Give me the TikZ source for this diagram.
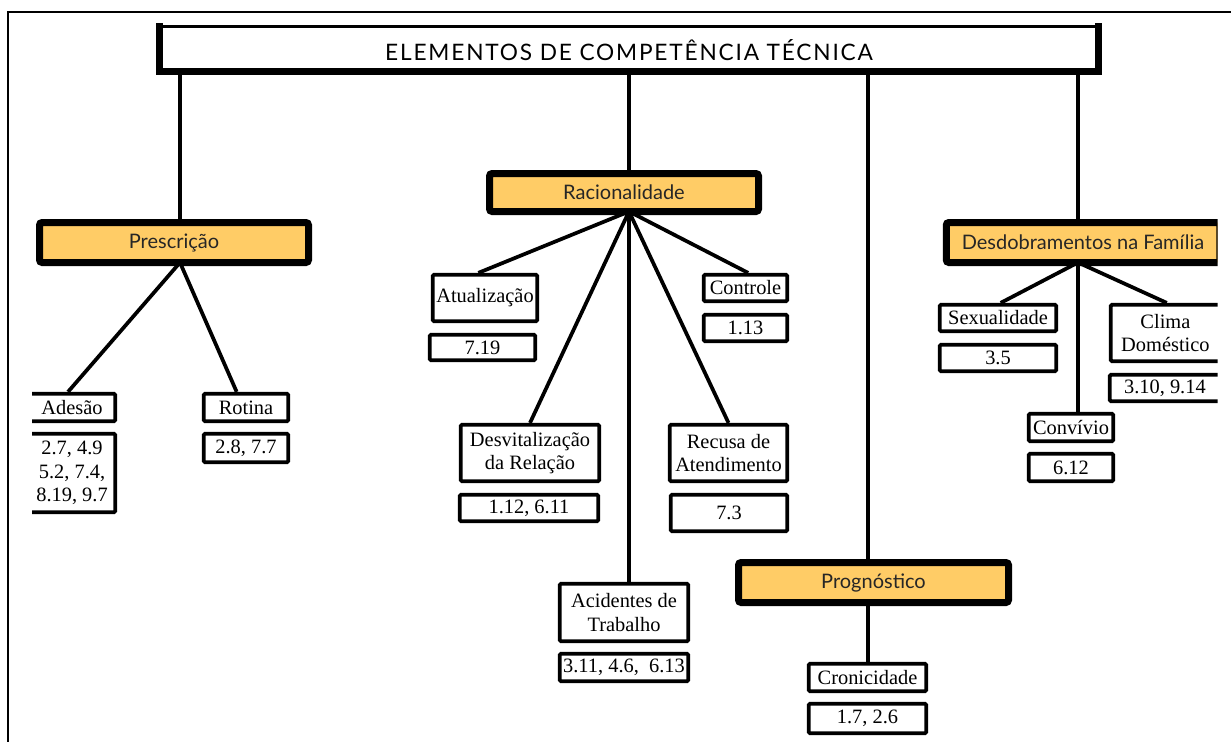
\documentclass[tikz,border=0pt]{standalone}
\usepackage{fontspec}
\setmainfont{Liberation Serif}
\newfontfamily\labfont{Lato}
\newfontfamily\titfont[LetterSpace=8]{Lato}
\definecolor{boxorange}{RGB}{255,204,102}
\begin{document}
\begin{tikzpicture}[x=0.75pt,y=-0.75pt,
  wbox/.style={draw, line width=2.8pt, fill=white, rounded corners=1pt, inner sep=0pt, align=center,
    font=\fontsize{15.3}{17.5}\selectfont},
  obox/.style={draw, line width=5.25pt, fill=boxorange, rounded corners=2pt, inner sep=0pt,
    font=\labfont\fontsize{15}{17}\selectfont, text=black!85},
  tbox/.style={draw, line width=1.9pt, fill=white, inner sep=0pt, font=\titfont\fontsize{17}{19}\selectfont},
  sz/.style 2 args={minimum width=#1*0.75pt, minimum height=#2*0.75pt},
  shadowline/.style={line width=5pt, line cap=rect},
  link/.style={line width=2.8pt},
  frameline/.style={line width=1.2pt}]
\useasboundingbox (0,0) rectangle (1231,742);
\draw[frameline] (8,742) -- (8,12) -- (1231,12);

\begin{scope}
\clip (32,0) rectangle (1217.5,742);

% hub coordinates
\coordinate (hP) at (180,262.5);
\coordinate (hR) at (629,211.5);
\coordinate (hG) at (868,602.5);
\coordinate (hD) at (1078,262.5);

% title
\node[tbox, sz={943.5}{47.5}] (title) at (629,50) {ELEMENTOS DE COMPETÊNCIA TÉCNICA};
\draw[shadowline] (159.5,26) -- (159.5,71.5) -- (1098.5,71.5) -- (1098.5,26);

% main connectors
\draw[link] (title.south -| hP) -- (180,222.5);
\draw[link] (title.south -| hR) -- (629,173.5);
\draw[link] (title.south -| hG) -- (868,562.5);
\draw[link] (title.south -| hD) -- (1078,222.5);

% category boxes
\node[obox, sz={269}{40}] (presc) at (174,242.5) {Prescrição};
\node[obox, sz={269}{38}] (racio) at (624,192.5) {Racionalidade};
\node[obox, sz={270}{40}] (progn) at (873.5,582.5) {Prognóstico};
\node[obox, sz={273.5}{40}] (desdo) at (1083,242.5) {Desdobramentos na Família};

% Prescrição children
\node[wbox, sz={86.5}{27.5}] (adesao) at (72,407.5) {Adesão};
\node[wbox, sz={86.5}{78.5}] (adesaov) at (72,473) {2.7, 4.9\\5.2, 7.4,\\8.19, 9.7};
\node[wbox, sz={84.5}{27.5}] (rotina) at (246,407.5) {Rotina};
\node[wbox, sz={84.5}{28.5}] (rotinav) at (246,448) {2.8, 7.7};

% Racionalidade children
\node[wbox, sz={104.5}{46.5}] (atual) at (485,298) {Atualização};
\node[wbox, sz={105.5}{25.5}] (atualv) at (482.5,347.5) {7.19};
\node[wbox, sz={83.5}{26.5}] (contr) at (745.5,288) {Controle};
\node[wbox, sz={83.5}{26.5}] (contrv) at (745.5,328) {1.13};
\node[wbox, sz={138.5}{56.5}] (desvit) at (530,453) {Desvitalização\\da Relação};
\node[wbox, sz={138.5}{26.5}] (desvitv) at (529,508) {1.12, 6.11};
\node[wbox, sz={128.5}{57.5}] (acid) at (624,612.5) {Acidentes de\\Trabalho};
\node[wbox, sz={128.5}{27.5}] (acidv) at (624,667.5) {3.11, 4.6,\ \ 6.13};
\node[wbox, sz={117.5}{56.5}] (recusa) at (728.5,453) {Recusa de\\Atendimento};
\node[wbox, sz={116.5}{36.5}] (recusav) at (729,513) {7.3};

% Prognóstico children
\node[wbox, sz={117.5}{27.5}] (croni) at (867.5,677.5) {Cronicidade};
\node[wbox, sz={117.5}{29.5}] (croniv) at (867.5,718.5) {1.7, 2.6};

% Desdobramentos children
\node[wbox, sz={116.5}{26.5}] (sexu) at (998,318) {Sexualidade};
\node[wbox, sz={116.5}{26.5}] (sexuv) at (998,358) {3.5};
\node[wbox, sz={84.5}{27.5}] (conv) at (1071,427.5) {Convívio};
\node[wbox, sz={84.5}{27.5}] (convv) at (1071,467.5) {6.12};
\node[wbox, sz={109.25}{56.5}] (clima) at (1165.4,333) {Clima\\Doméstico};
\node[wbox, sz={110.25}{26.5}] (climav) at (1164.9,388) {3.10, 9.14};

% connectors
\draw[link] (hP) -- ([xshift=-3]adesao.north);
\draw[link] (hP) -- ([xshift=-7]rotina.north);
\draw[link] (hR) -- ([xshift=-5]atual.north);
\draw[link] (hR) -- ([xshift=2]contr.north);
\draw[link] (hR) -- (desvit.north);
\draw[link] (hR) -- (acid.north -| hR);
\draw[link] (hR) -- (recusa.north);
\draw[link] (hG) -- (croni.north -| hG);
\draw[link] (hD) -- ([xshift=2]sexu.north);
\draw[link] (hD) -- (conv.north -| hD);
\draw[link] (hD) -- ([xshift=1]clima.north);
\end{scope}
\end{tikzpicture}
\end{document}
